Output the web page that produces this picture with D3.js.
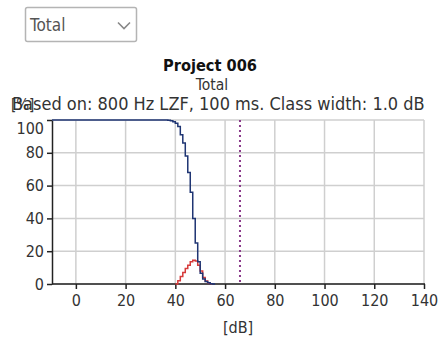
<!DOCTYPE html>
<html>
<head>
<meta charset="utf-8">
<script src="https://cdn.jsdelivr.net/npm/d3@7"></script>
<style>
  body { margin: 0; background: #fff; }
  svg { font-family: "DejaVu Sans Condensed", "DejaVu Sans", Verdana, sans-serif; }
</style>
</head>
<body>
<svg id="chart" width="438" height="338"></svg>
<script>
// class levels in dB and values in %
const blueDb  = [37, 38, 39, 40, 41, 42, 43, 44, 45, 46, 47, 48, 49, 50, 51, 52, 53, 54, 55, 56];
const blueVal = [99.8, 99.5, 99, 98, 96, 91, 86, 78, 68, 56, 40, 25, 13.6, 6.5, 3, 1.5, 0.7, 0.2, 0, 0];
const redDb   = [40, 41, 42, 43, 44, 45, 46, 47, 48, 49, 50, 51, 52, 53, 54, 55];
const redVal  = [0, 2, 4.5, 7, 9.5, 11.5, 13.5, 14.5, 14, 11.5, 8, 4, 1.8, 0.6, 0.2, 0];
const markerDb = 66;
const xTicks = [0, 20, 40, 60, 80, 100, 120, 140];
const yTicks = [0, 20, 40, 60, 80, 100];

const svg = d3.select("#chart");
const m = { left: 52, right: 14, top: 120, bottom: 54 };
const W = 438, H = 338;

const x = d3.scaleLinear().domain([-9.6, 140]).range([m.left, W - m.right]);
const y = d3.scaleLinear().domain([0, 100]).range([H - m.bottom, m.top]);

// shrink/grow a text so it spans the given width
function fitWidth(t, w) {
  const size = +t.attr("font-size");
  const len = t.node().getComputedTextLength();
  t.attr("font-size", size * w / len);
}

// dropdown
const dd = svg.append("g");
dd.append("rect").attr("x", 25.5).attr("y", 7.5).attr("width", 111).attr("height", 34)
  .attr("rx", 2).attr("fill", "#fff").attr("stroke", "#b4b4b4").attr("stroke-width", 1.5);
dd.append("text").attr("x", 30).attr("y", 31).attr("font-size", 17).attr("fill", "#555").text("Total");
dd.append("path").attr("d", "M118,22.5 l6,6 l6,-6").attr("fill", "none").attr("stroke", "#888").attr("stroke-width", 1.6);

// titles
const title = svg.append("text").attr("x", 210).attr("y", 71).attr("text-anchor", "middle")
  .attr("font-weight", "bold").attr("font-size", 14).attr("fill", "#111").text("Project 006");
fitWidth(title, 94);
svg.append("text").attr("x", 212).attr("y", 90).attr("text-anchor", "middle")
  .attr("font-size", 15.5).attr("fill", "#333").text("Total");
const based = svg.append("text").attr("x", 12).attr("y", 110)
  .attr("font-size", 14).attr("fill", "#333")
  .text("Based on: 800 Hz  LZF, 100 ms. Class width: 1.0 dB");
fitWidth(based, 413);
svg.append("text").attr("x", 11).attr("y", 110)
  .attr("font-size", 15).attr("fill", "#333").text("[%]");

// grid
const grid = svg.append("g").attr("stroke", "#cfcfcf").attr("stroke-width", 1.5);
grid.selectAll(".gx").data(xTicks).enter().append("line")
  .attr("x1", d => x(d)).attr("x2", d => x(d)).attr("y1", y(100)).attr("y2", y(0));
grid.selectAll(".gy").data(yTicks).enter().append("line")
  .attr("x1", x.range()[0]).attr("x2", x.range()[1]).attr("y1", d => y(d)).attr("y2", d => y(d));

// axes
const xAxis = svg.append("g").attr("transform", `translate(0,${y(0)})`)
  .call(d3.axisBottom(x).tickValues(xTicks).tickSize(5).tickPadding(6).tickSizeOuter(0));
const yAxis = svg.append("g").attr("transform", `translate(${x.range()[0]},0)`)
  .call(d3.axisLeft(y).tickValues(yTicks).tickSize(5).tickPadding(3).tickSizeOuter(0));
[xAxis, yAxis].forEach(a => {
  a.select(".domain").attr("stroke", "#222").attr("stroke-width", 1.5);
  a.selectAll(".tick line").attr("stroke", "#222").attr("stroke-width", 1.5);
  a.selectAll(".tick text").attr("font-size", 16).attr("fill", "#333")
    .attr("font-family", "DejaVu Sans Condensed, DejaVu Sans, Verdana, sans-serif");
});
xAxis.select(".domain").attr("d", `M${x.range()[0]},0H${x.range()[1] + 1}`);
yAxis.selectAll(".tick").filter(d => d === 100).select("text").attr("dy", "0.85em");

svg.append("text").attr("x", (x.range()[0] + x.range()[1]) / 2).attr("y", 333)
  .attr("text-anchor", "middle").attr("font-size", 16).attr("fill", "#333").text("[dB]");

// marker line
svg.append("line").attr("x1", x(markerDb)).attr("x2", x(markerDb))
  .attr("y1", y(100)).attr("y2", y(0))
  .attr("stroke", "#8a3a8a").attr("stroke-width", 2).attr("stroke-dasharray", "2,3");

// curves
const line = d3.line().x(d => x(d[0])).y(d => y(d[1])).curve(d3.curveStepAfter);
const redPts = redDb.map((d, i) => [d, redVal[i]]);
const bluePts = [[x.domain()[0], 100]].concat(blueDb.map((d, i) => [d, blueVal[i]]));

svg.append("path").datum(redPts).attr("d", line)
  .attr("fill", "none").attr("stroke", "#d63a3a").attr("stroke-width", 1.5);
svg.append("path").datum(bluePts).attr("d", line)
  .attr("fill", "none").attr("stroke", "#1f3573").attr("stroke-width", 1.5);
</script>
</body>
</html>
